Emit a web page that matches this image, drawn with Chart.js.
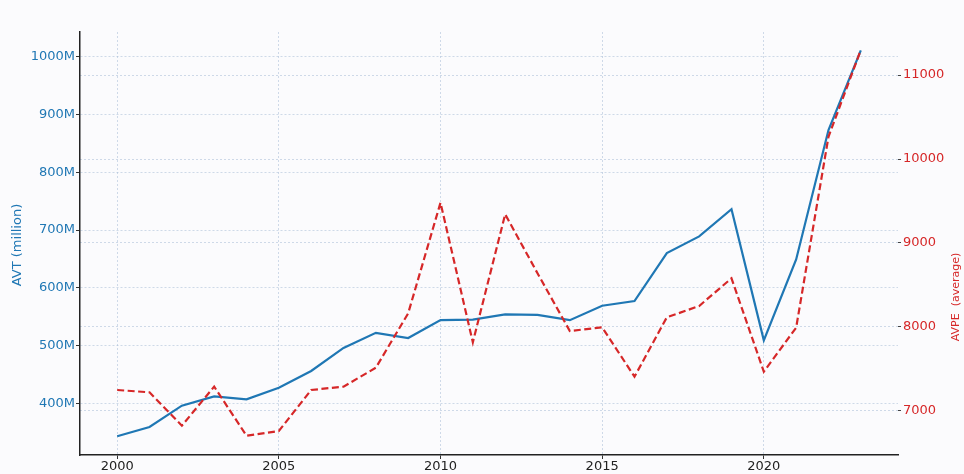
<!DOCTYPE html>
<html>
<head>
<meta charset="utf-8">
<script src="https://cdn.jsdelivr.net/npm/chart.js@4/dist/chart.umd.min.js"></script>
<style>
html,body{margin:0;padding:0;background:#fbfbfd;}
canvas{display:block;}
</style>
</head>
<body>
<canvas id="c" width="964" height="474"></canvas>
<script>
const years = [2000,2001,2002,2003,2004,2005,2006,2007,2008,2009,2010,2011,2012,2013,2014,2015,2016,2017,2018,2019,2020,2021,2022,2023];
const avt = [343,359,396,412,407,427,456,496,522,513,544,545,554,553,544,569,577,660,689,736,509,649,873,1011];
const avpe = [7250,7222,6825,7290,6706,6762,7250,7290,7515,8163,9480,7818,9342,8640,7952,7996,7408,8115,8250,8580,7468,7992,10265,11298];
const xTicks = [2000,2005,2010,2015,2020];
const leftTicks = [400,500,600,700,800,900,1000];
const rightTicks = [7000,8000,9000,10000,11000];
const leftTitle = 'AVT (million)';
const rightTitle = 'AVPE  (average)';

const BLUE = '#1f77b4';
const RED = '#d62728';
const GRID = 'rgba(170,190,215,0.55)';
const FONT = 'DejaVu Sans';

const bgPlugin = {
  id: 'bg',
  beforeDraw(chart) {
    const ctx = chart.ctx;
    ctx.save();
    ctx.fillStyle = '#fbfbfd';
    ctx.fillRect(0, 0, chart.width, chart.height);
    ctx.restore();
  }
};
const titlePlugin = {
  id: 'titles',
  afterDraw(chart) {
    const ctx = chart.ctx;
    ctx.save();
    ctx.textAlign = 'center';
    ctx.textBaseline = 'middle';
    ctx.fillStyle = BLUE;
    ctx.font = '13px "' + FONT + '"';
    ctx.translate(18, 245);
    ctx.rotate(-Math.PI / 2);
    ctx.fillText(leftTitle, 0, 0);
    ctx.restore();
    ctx.save();
    ctx.textAlign = 'center';
    ctx.textBaseline = 'middle';
    ctx.fillStyle = RED;
    ctx.font = '11px "' + FONT + '"';
    ctx.translate(956, 297);
    ctx.rotate(-Math.PI / 2);
    ctx.fillText(rightTitle, 0, 0);
    ctx.restore();
  }
};

new Chart(document.getElementById('c'), {
  type: 'line',
  data: {
    datasets: [
      {
        label: 'AVPE',
        data: years.map((y, i) => ({x: y, y: avpe[i]})),
        yAxisID: 'y2',
        borderColor: RED,
        borderWidth: 2.2,
        borderDash: [7, 3.5],
        pointRadius: 0,
        tension: 0,
        fill: false,
        order: 0
      },
      {
        label: 'AVT',
        data: years.map((y, i) => ({x: y, y: avt[i]})),
        yAxisID: 'y',
        borderColor: BLUE,
        borderWidth: 2.2,
        pointRadius: 0,
        tension: 0,
        fill: false,
        order: 1
      }
    ]
  },
  options: {
    responsive: false,
    devicePixelRatio: 1,
    animation: false,
    layout: {padding: {top: 32, left: 0, right: 0, bottom: 0}},
    plugins: {legend: {display: false}, tooltip: {enabled: false}},
    scales: {
      x: {
        type: 'linear',
        min: 1998.85,
        max: 2024.15,
        afterBuildTicks(s) { s.ticks = xTicks.map(v => ({value: v})); },
        afterFit(s) { s.height = 19; },
        ticks: {
          color: '#222',
          font: {family: FONT, size: 13},
          padding: 0,
          maxRotation: 0,
          callback: v => String(v)
        },
        grid: {
          color: GRID,
          lineWidth: 1,
          tickLength: 4,
          tickColor: '#333',
          tickWidth: 1,
          tickBorderDash: []
        },
        border: {display: true, color: '#222', width: 1.5, dash: [2, 2]}
      },
      y: {
        position: 'left',
        min: 310.6,
        max: 1042.7,
        afterBuildTicks(s) { s.ticks = leftTicks.map(v => ({value: v})); },
        afterFit(s) { s.width = 80; },
        ticks: {
          color: BLUE,
          font: {family: FONT, size: 13},
          padding: 1,
          callback: v => v + 'M'
        },
        grid: {
          color: GRID,
          lineWidth: 1,
          tickLength: 4,
          tickColor: '#333',
          tickWidth: 1,
          tickBorderDash: []
        },
        border: {display: true, color: '#222', width: 1.5, dash: [2, 2]}
      },
      y2: {
        position: 'right',
        min: 6476,
        max: 11512,
        afterBuildTicks(s) { s.ticks = rightTicks.map(v => ({value: v})); },
        afterFit(s) { s.width = 66; },
        ticks: {
          color: RED,
          font: {family: FONT, size: 13},
          padding: 2,
          callback: v => String(v)
        },
        grid: {
          color: GRID,
          lineWidth: 1,
          tickLength: 3,
          tickColor: '#444',
          tickWidth: 1,
          tickBorderDash: []
        },
        border: {display: false, dash: [2, 2]}
      }
    }
  },
  plugins: [bgPlugin, titlePlugin]
});
</script>
</body>
</html>
